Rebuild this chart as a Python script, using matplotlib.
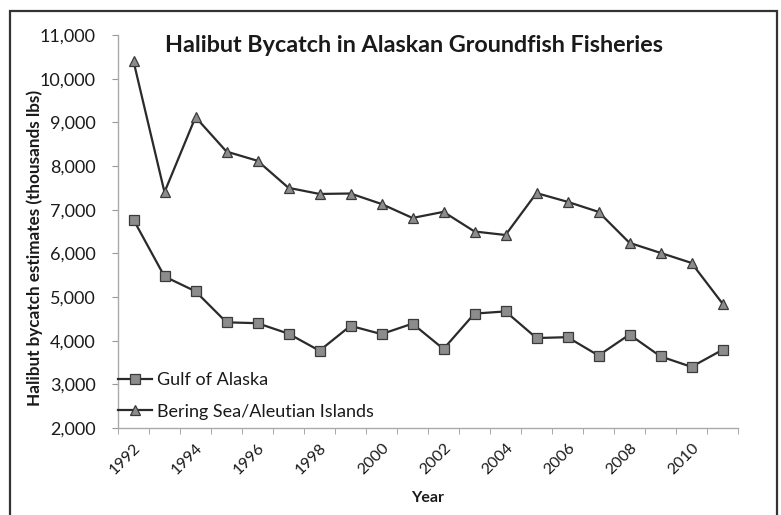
import matplotlib
matplotlib.use("Agg")
import matplotlib.pyplot as plt
from matplotlib.patches import Rectangle
from matplotlib.ticker import FuncFormatter, FixedLocator
import numpy as np

plt.rcParams['font.family'] = ['Lato', 'DejaVu Sans']

years = list(range(1992, 2012))
gulf_of_alaska = [6770, 5470, 5130, 4420, 4400, 4160, 3770, 4340, 4150, 4390,
                  3810, 4620, 4670, 4060, 4080, 3660, 4140, 3640, 3400, 3790]
bering_sea = [10400, 7400, 9120, 8330, 8120, 7500, 7360, 7370, 7130, 6810,
              6950, 6500, 6420, 7380, 7180, 6950, 6240, 6010, 5780, 4850]
y_ticks = list(range(2000, 11001, 1000))
title = "Halibut Bycatch in Alaskan Groundfish Fisheries"
ylabel = "Halibut bycatch estimates (thousands lbs)"
xlabel = "Year"

W, H = 781, 515
fig = plt.figure(figsize=(W / 100, H / 100), dpi=100)
fig.patch.set_facecolor('white')

# outer chart border (bottom edge cut off in the scan)
fig.patches.append(Rectangle((10 / W, -10 / H), 767 / W, 514 / H, transform=fig.transFigure,
                             fill=False, edgecolor='#333333', linewidth=1.6))

ax = fig.add_axes([118 / W, (H - 428) / H, 620 / W, 393 / H])
x = np.arange(len(years))

text_c = '#1a1a1a'
ax.plot(x, gulf_of_alaska, color='#2a2a2a', lw=1.6, marker='s', markersize=7,
        markerfacecolor='#8c8c8c', markeredgecolor='#3a3a3a', markeredgewidth=0.9,
        label='Gulf of Alaska')
ax.plot(x, bering_sea, color='#2a2a2a', lw=1.6, marker='^', markersize=7.5,
        markerfacecolor='#8c8c8c', markeredgecolor='#3a3a3a', markeredgewidth=0.9,
        label='Bering Sea/Aleutian Islands')

ax.set_xlim(-0.5, len(years) - 0.5)
ax.set_ylim(2000, 11000)
ax.set_yticks(y_ticks)
ax.yaxis.set_major_formatter(FuncFormatter(lambda v, p: f"{int(v):,}"))

label_idx = [i for i, yv in enumerate(years) if yv % 2 == 0]
ax.set_xticks(label_idx)
ax.set_xticklabels([str(years[i]) for i in label_idx], rotation=45, ha='right',
                   rotation_mode='anchor')
ax.xaxis.set_minor_locator(FixedLocator(np.arange(-0.5, len(years), 1.0)))
ax.tick_params(axis='x', which='major', length=0, pad=9, labelsize=11.5, labelcolor=text_c)
ax.tick_params(axis='x', which='minor', length=4, color='#999999', direction='out')
ax.tick_params(axis='y', which='major', length=4, color='#999999', direction='out',
               labelsize=13, labelcolor=text_c, pad=12)

for s in ['top', 'right']:
    ax.spines[s].set_visible(False)
for s in ['left', 'bottom']:
    ax.spines[s].set_color('#aaaaaa')
    ax.spines[s].set_linewidth(1.0)

ax.set_facecolor('none')
fig.text(414 / W, 1 - 45 / H, title, ha='center', va='center', fontsize=16.8,
         fontweight='bold', color=text_c)
fig.text(35 / W, 1 - 248 / H, ylabel, ha='center', va='center', rotation=90,
         fontsize=12.3, fontweight='bold', color=text_c)
fig.text(428 / W, 1 - 498 / H, xlabel, ha='center', va='center', fontsize=11.5,
         fontweight='bold', color=text_c)

leg = ax.legend(loc='upper left', bbox_to_anchor=(-0.012, 0.16), frameon=False,
                fontsize=13, labelspacing=0.85, handlelength=1.9, handletextpad=0.25,
                borderaxespad=0)
for t in leg.get_texts():
    t.set_color(text_c)

fig.savefig('out.png', dpi=100, facecolor='white')
